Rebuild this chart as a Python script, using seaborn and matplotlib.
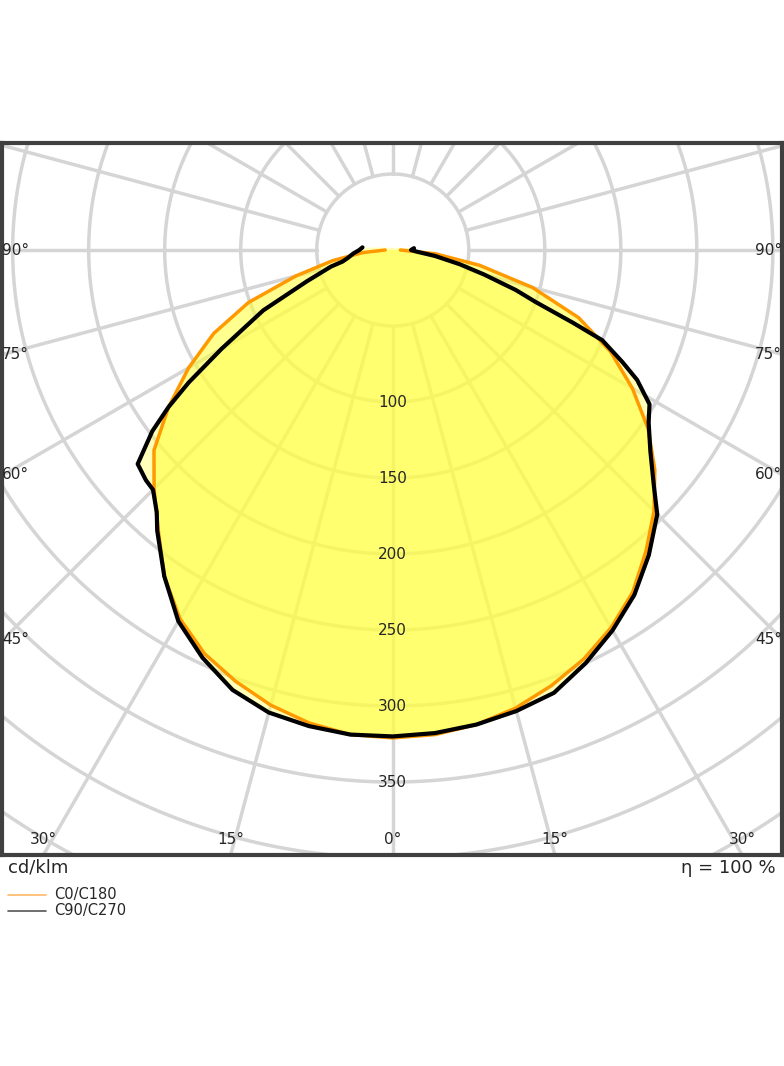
import numpy as np
import matplotlib
matplotlib.use("Agg")
import matplotlib.pyplot as plt
import seaborn as sns
import pandas as pd

sns.set_theme(style="white")
plt.rcParams['font.family'] = ['DejaVu Sans']

# gamma angles (deg, negative = left half) and intensities (cd/klm)
c0_angle = [-90, -85, -80, -75, -70, -65, -60, -55, -50, -45, -40, -35, -30, -25, -20, -15, -10, -5, 0,
            5, 10, 15, 20, 25, 30, 35, 40, 45, 50, 55, 60, 65, 70, 75, 80, 85, 90]
c0_value = [5, 20, 40, 66, 101, 130, 155, 180, 205, 222, 240, 262, 280, 293, 302, 310, 316, 320, 321,
            320, 317, 312, 305, 297, 287, 275, 259, 243, 225, 205, 182, 158, 130, 95, 58, 28, 5]
c90_angle = [-95, -90, -85, -80, -77, -75, -70, -65, -60, -57, -55, -53, -50, -47, -45, -42, -40, -35, -30,
             -25, -20, -15, -10, -5, 0, 5, 10, 15, 20, 25, 30, 35, 40, 45, 48, 52, 56, 59, 62, 64,
             66.7, 68, 70, 72, 75, 78, 82, 86, 90, 95]
c90_value = [20, 22, 26, 30, 34, 42, 60, 94, 130, 160, 180, 198, 219, 222, 223, 232, 241, 262, 282,
             296, 308, 315, 318, 320, 320, 319, 317, 314, 310, 300, 289, 277, 262, 246, 231, 215, 203, 197, 182, 168,
             150, 128, 100, 85, 62, 45, 28, 16, 12, 14]
ring_values = [100, 150, 200, 250, 300, 350]
side_labels = [90, 75, 60, 45]
bottom_labels = [30, 15, 0, 15, 30]

def to_xy(a, v):
    a = np.radians(np.array(a, float)); v = np.array(v, float)
    return v*np.sin(a), -v*np.cos(a)

fig = plt.figure(figsize=(7.84, 10.66), dpi=100)
ax = fig.add_axes([2/784, (1066-855)/1066, 780/784, 712/1066])
ax.set_xticks([]); ax.set_yticks([])
for s in ax.spines.values():
    s.set_color('#404040'); s.set_linewidth(3)

grid = '#d5d5d5'
t = np.linspace(0, 2*np.pi, 400)
for r in range(50, 551, 50):
    ax.plot(r*np.cos(t), r*np.sin(t), color=grid, lw=2.5, zorder=1)
for a in range(0, 360, 15):
    ar = np.radians(a)
    ax.plot([50*np.sin(ar), 700*np.sin(ar)], [-50*np.cos(ar), -700*np.cos(ar)], color=grid, lw=2.5, zorder=1)

x0, y0 = to_xy(c0_angle, c0_value)
x9, y9 = to_xy(c90_angle, c90_value)
ax.fill(x9, y9, color='#ffff66', alpha=0.45, lw=0, zorder=2)
ax.fill(x0, y0, color='#ffff33', alpha=0.55, lw=0, zorder=2)
d0 = pd.DataFrame({'x': x0, 'y': y0})
d9 = pd.DataFrame({'x': x9, 'y': y9})
sns.lineplot(data=d0, x='x', y='y', sort=False, estimator=None, color='#ff9900', lw=2.5, ax=ax, zorder=3)
sns.lineplot(data=d9, x='x', y='y', sort=False, estimator=None, color='black', lw=3, ax=ax, zorder=4)
ax.set_xlabel(''); ax.set_ylabel('')
ax.set_xlim(-257, 256); ax.set_ylim(-398, 70.4)

for r in ring_values:
    ax.text(0, -r, str(r), ha='center', va='center', fontsize=11, zorder=5)
for i, a in enumerate(bottom_labels):
    sgn = -1 if i < 2 else 1
    xb = sgn*398*np.tan(np.radians(a))
    ax.text(xb, -388, f"{a}°", ha='center', va='center', fontsize=11, zorder=5)
for a in side_labels:
    yy = -256/np.tan(np.radians(a)) if a != 90 else 0
    ax.text(-257, yy, f"{a}°", ha='left', va='center', fontsize=11, zorder=5)
    ax.text(256, yy, f"{a}°", ha='right', va='center', fontsize=11, zorder=5)

fig.text(8/784, 1-868/1066, "cd/klm", ha='left', va='center', fontsize=13)
fig.text(776/784, 1-868/1066, "η = 100 %", ha='right', va='center', fontsize=13)
for yy, c, lab in [(895, '#ffb866', 'C0/C180'), (911, '#555555', 'C90/C270')]:
    fig.add_artist(plt.Line2D([8/784, 46/784], [1-yy/1066]*2, color=c, lw=1.2))
    fig.text(54/784, 1-yy/1066, lab, ha='left', va='center', fontsize=10.5)

fig.savefig('out.png', dpi=100)
